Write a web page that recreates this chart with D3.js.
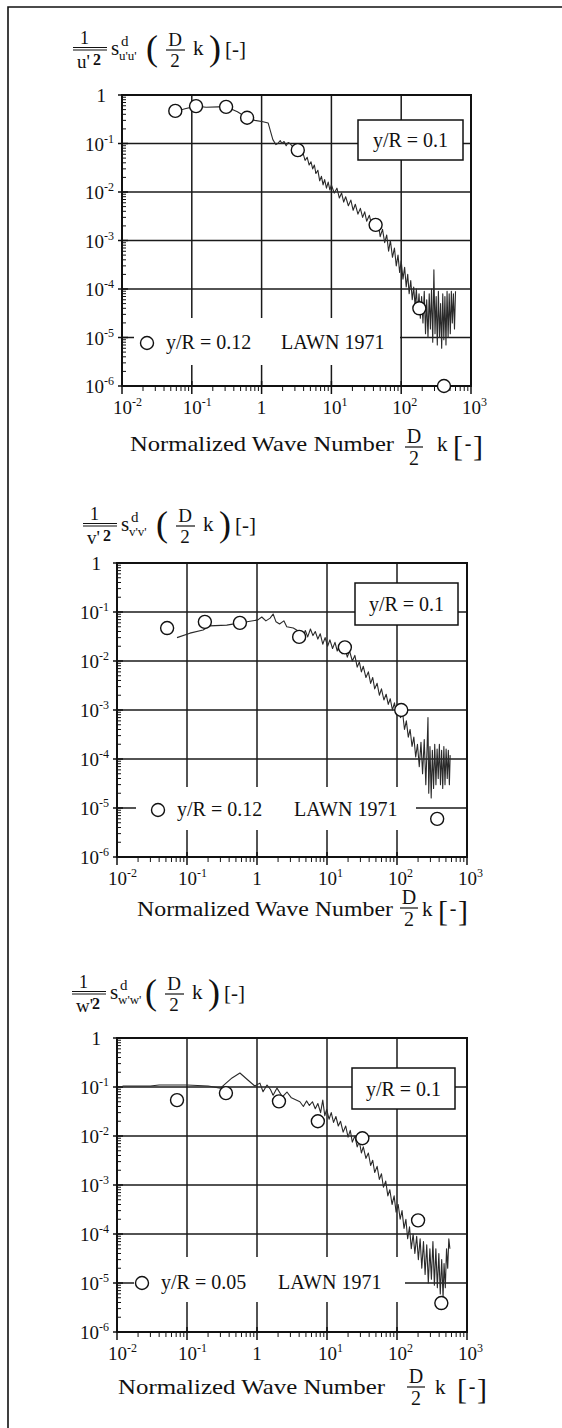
<!DOCTYPE html>
<html lang="en">
<head>
<meta charset="UTF-8">
<title>Normalized spectra u', v', w'</title>
<script src="https://d3js.org/d3.v7.min.js"></script>
<style>
  body { margin: 0; background: #fff; }
  text { font-family: "Liberation Serif", "Times New Roman", serif; fill: #111; }
</style>
</head>
<body>
<svg id="chart" width="562" height="1428"></svg>
<script>
// ---- axis ticks ----
const xTickVals = [1e-2, 1e-1, 1, 1e1, 1e2, 1e3];
const xTickExp = ["-2", "-1", "", "1", "2", "3"];
const yTickVals = [1, 1e-1, 1e-2, 1e-3, 1e-4, 1e-5, 1e-6];
const yTickExp = ["", "-1", "-2", "-3", "-4", "-5", "-6"];

// ---- u'u' spectrum (y/R = 0.1) ----
const uLine = [[0.065,0.48],[0.08,0.52],[0.115,0.59],[0.16,0.56],[0.24,0.57],[0.31,0.57],[0.45,0.45],[0.62,0.34],[0.8,0.3],[1.05,0.28],[1.24,0.265],[1.45,0.12],[1.6,0.095],[1.7,0.1],[1.85,0.115],[1.95,0.1],[2.1,0.11],[2.25,0.09],[2.4,0.105],[2.55,0.1],[2.8,0.085],[3.2,0.075],
  [3.6,0.055],[3.9,0.065],[4.2,0.045],[4.5,0.052],[4.8,0.036],[5.1,0.042],[5.4,0.03],[5.7,0.036],[6.0,0.024],[6.4,0.028],[6.8,0.017],[7.2,0.021],[7.6,0.014],[8.0,0.018],[8.5,0.012],[9.0,0.016],[9.5,0.011],[10,0.014],[11,0.0095],[12,0.012],[13,0.0075],[14,0.0095],[15,0.0062],[16,0.008],[17.5,0.0052],[19,0.0068],[20.5,0.0042],[22,0.0056],[24,0.0035],[26,0.0046],[28,0.003],[30,0.0039],[32,0.0025],[35,0.0033],[38,0.002],[41,0.0027],[44,0.0016],[47,0.0023],[50,0.0012],[54,0.0017],[58,0.0009],[62,0.0013],[66,0.0006],[70,0.001],[75,0.00045],[80,0.0007],[85,0.0003],[90,0.0005],[95,0.00022],[100,0.00038],
  [106,0.00016],[112,0.00028],[118,0.00011],[124,0.0002],[130,0.00008],[137,0.00015],[144,0.00006],[151,0.00011],[158,0.000045],[165,0.0001],[172,0.00003],[180,0.00008],[188,0.000025],[196,0.00007],[205,0.00002],[214,0.00009],[223,0.000012],[232,0.00006],[242,0.00001],[252,0.00008],[262,0.000015],[272,0.0001],[283,0.000008],[294,0.00025],[305,0.000012],[317,0.00007],[329,0.000007],[341,0.00009],[354,0.00001],[367,0.00005],[380,0.000006],[394,0.00008],[408,0.000009],[423,0.00007],[438,0.000007],[454,0.00009],[470,0.00001],[487,0.00008],[505,0.000012],[523,0.00009],[540,0.00002],[560,0.00008],[580,0.000015],[600,0.00009]];
const uCircles = [[0.058,0.47],[0.115,0.59],[0.31,0.57],[0.62,0.34],[3.3,0.073],[43,0.0021],[182,0.00004],[410,0.000001]];

// ---- v'v' spectrum (y/R = 0.1) ----
const vLine = [[0.072,0.03],[0.11,0.037],[0.17,0.043],[0.21,0.052],[0.37,0.054],[0.57,0.06],[0.72,0.063],[1.03,0.069],[1.17,0.079],[1.34,0.066],[1.54,0.075],[1.7,0.091],[1.87,0.063],[2.1,0.057],[2.42,0.066],[2.66,0.05],[3.3,0.047],
  [4.1,0.039],[4.5,0.03],[4.9,0.042],[5.3,0.031],[5.8,0.045],[6.3,0.033],[6.8,0.04],[7.4,0.028],[8,0.036],[8.7,0.022],[9.4,0.03],[10.2,0.02],[11,0.027],[12,0.018],[13,0.024],[14,0.016],[15,0.021],[16.5,0.014],[18,0.019],[19.5,0.012],[21,0.016],[23,0.01],[25,0.013],[27,0.0075],[29,0.0095],[31,0.006],[33,0.0078],[36,0.0046],[39,0.006],[42,0.0035],[45,0.0046],[48,0.0027],[52,0.0035],[56,0.002],[60,0.0027],[65,0.0016],[70,0.0021],[75,0.0013],[80,0.0017],[86,0.001],[92,0.0014],[98,0.0008],[105,0.0011],
  [112,0.0007],[120,0.0009],[128,0.0004],[136,0.0006],[145,0.00028],[154,0.0004],[164,0.00018],[174,0.00028],[185,0.00011],[196,0.0002],[208,0.00007],[220,0.00022],[232,0.00005],[245,0.00025],[258,0.00003],[270,0.0002],[277,0.0007],[284,0.00002],[296,0.00018],[308,0.000016],[320,0.00015],[333,0.000025],[346,0.0002],[360,0.00003],[374,0.00016],[388,0.00004],[403,0.0002],[418,0.00003],[434,0.00015],[450,0.000025],[467,0.00018],[485,0.00003],[503,0.00016],[522,0.00004],[541,0.00015],[560,0.00003],[575,0.00012]];
const vCircles = [[0.052,0.047],[0.18,0.063],[0.57,0.06],[4.0,0.031],[18,0.019],[115,0.001],[375,0.000006]];

// ---- w'w' spectrum (y/R = 0.1) ----
const wLine = [[0.012,0.105],[0.03,0.105],[0.04,0.11],[0.06,0.11],[0.1,0.11],[0.2,0.105],[0.3,0.095],[0.44,0.153],[0.57,0.193],[0.74,0.139],[0.93,0.105],[1.1,0.12],[1.22,0.08],[1.39,0.11],[1.55,0.09],[1.7,0.068],[1.93,0.095],[2.3,0.063],[2.68,0.079],[3.1,0.06],
  [4.1,0.05],[4.6,0.04],[5.1,0.052],[5.6,0.042],[6.2,0.05],[6.8,0.036],[7.4,0.046],[8.1,0.03],[8.7,0.054],[9.3,0.026],[9.9,0.035],[10.7,0.022],[11.5,0.03],[12.4,0.019],[13.4,0.025],[14.5,0.016],[15.6,0.02],[17,0.012],[18.5,0.016],[20,0.0095],[21.5,0.013],[23,0.0075],[25,0.01],[27,0.006],[29,0.0078],[31,0.0045],[33,0.006],[36,0.0035],[39,0.0045],[42,0.0025],[45,0.0032],[48,0.0018],[52,0.0024],[56,0.0013],[60,0.0017],[64,0.0009],[69,0.0012],[74,0.0006],[79,0.0008],[85,0.0004],[91,0.0006],[97,0.00028],
  [104,0.0004],[111,0.0002],[118,0.0003],[126,0.00013],[134,0.0002],[142,0.00008],[151,0.00014],[160,0.00005],[170,0.0001],[180,0.00004],[191,0.00009],[202,0.00003],[214,0.00008],[226,0.00002],[239,0.00007],[252,0.000015],[266,0.00006],[280,0.00001],[295,0.00005],[310,0.000012],[326,0.00007],[342,0.000009],[359,0.00005],[377,0.000008],[396,0.00004],[415,0.000006],[435,0.00003],[455,0.000005],[470,0.000025],[490,0.000008],[510,0.00005],[530,0.00002],[550,0.00008],[570,0.00005]];
const wCircles = [[0.072,0.054],[0.36,0.075],[2.06,0.051],[7.4,0.02],[32,0.009],[200,0.00019],[430,0.0000039]];

// ---- legend / label texts ----
const components = ["u", "v", "w"];
const boxLabels = ["y/R = 0.1", "y/R = 0.1", "y/R = 0.1"];
const lawnLabels = ["y/R = 0.12", "y/R = 0.12", "y/R = 0.05"];
const lawnSource = "LAWN 1971";

// ---- page layout (pixels) ----
const layout = [
  { left: 122, top: 95, right: 471, bottom: 386, tX: 73, tBar: 49,
    box: [358, 120, 463, 160], leg: [134, 318, 400, 365], legC: [147, 343], legT: [166, 281], legBase: 349,
    xt: { x: 130, w: 264, base: 451, frac: 414, bar: 447, k: 437, br: 453 } },
  { left: 117, top: 563, right: 467, bottom: 857, tX: 83, tBar: 525,
    box: [355, 583, 458, 625], leg: [136, 787, 416, 830], legC: [158, 810], legT: [177, 294], legBase: 816,
    xt: { x: 137, w: 256, base: 916, frac: 409, bar: 908, k: 422, br: 438 } },
  { left: 117, top: 1038, right: 467, bottom: 1332, tX: 72, tBar: 993,
    box: [352, 1068, 455, 1109], leg: [134, 1257, 405, 1302], legC: [142, 1283], legT: [161, 278], legBase: 1289,
    xt: { x: 118, w: 267, base: 1394, frac: 416, bar: 1387, k: 435, br: 457 } }
];
const lines = [uLine, vLine, wLine];
const circles = [uCircles, vCircles, wCircles];

const svg = d3.select("#chart");

// outer frame
svg.append("path")
  .attr("d", "M8,1440 L8,7 L600,7")
  .attr("fill", "none").attr("stroke", "#111").attr("stroke-width", 1.6);

function txt(g, x, y, s, size, anchor) {
  return g.append("text").attr("x", x).attr("y", y)
    .attr("font-size", size).attr("text-anchor", anchor || "start").text(s);
}
function hline(g, x1, x2, y, w) {
  g.append("line").attr("x1", x1).attr("x2", x2).attr("y1", y).attr("y2", y)
    .attr("stroke", "#111").attr("stroke-width", w || 1.2);
}

function drawTitle(g, x0, yb, c) {
  hline(g, x0, x0 + 34, yb - 1.5, 1.1);
  hline(g, x0, x0 + 34, yb + 1, 1.1);
  txt(g, x0 + 7, yb - 5, "1", 18);
  txt(g, x0 + 4, yb + 19, c + "'", 19);
  txt(g, x0 + 20, yb + 16, "2", 16).attr("font-weight", "bold");
  txt(g, x0 + 38, yb + 6, "s", 21);
  txt(g, x0 + 48, yb - 3, "d", 15);
  txt(g, x0 + 46, yb + 11, c + "'" + c + "'", 13);
  txt(g, x0 + 73, yb + 11, "(", 36);
  txt(g, x0 + 102, yb - 3, "D", 19, "middle");
  hline(g, x0 + 93, x0 + 112, yb + 1);
  txt(g, x0 + 102, yb + 18, "2", 19, "middle");
  txt(g, x0 + 120, yb + 6, "k", 21);
  txt(g, x0 + 136, yb + 11, ")", 36);
  txt(g, x0 + 152, yb + 7, "[-]", 21);
}

function drawXTitle(g, t) {
  txt(g, t.x, t.base, "Normalized Wave Number", 21)
    .attr("textLength", t.w).attr("lengthAdjust", "spacingAndGlyphs");
  txt(g, t.frac, t.bar - 4, "D", 20, "middle");
  hline(g, t.frac - 9, t.frac + 9, t.bar);
  txt(g, t.frac, t.bar + 18, "2", 20, "middle");
  txt(g, t.k, t.base, "k", 21);
  txt(g, t.br, t.base + 5, "[", 30);
  txt(g, t.br + 15, t.base - 1, "-", 20, "middle");
  txt(g, t.br + 20, t.base + 5, "]", 30);
}

layout.forEach((p, i) => {
  const g = svg.append("g");
  const x = d3.scaleLog().domain([1e-2, 1e3]).range([p.left, p.right]);
  const y = d3.scaleLog().domain([1e-6, 1]).range([p.bottom, p.top]);

  // grid lines at decades
  g.selectAll(".gx").data(xTickVals.slice(1, -1)).join("line")
    .attr("x1", d => x(d)).attr("x2", d => x(d)).attr("y1", p.top).attr("y2", p.bottom)
    .attr("stroke", "#1a1a1a").attr("stroke-width", 1.5);
  g.selectAll(".gy").data(yTickVals.slice(1, -1)).join("line")
    .attr("x1", p.left).attr("x2", p.right).attr("y1", d => y(d)).attr("y2", d => y(d))
    .attr("stroke", "#1a1a1a").attr("stroke-width", 1.5);

  // white panels behind the legends
  g.append("rect").attr("x", p.leg[0]).attr("y", p.leg[1])
    .attr("width", p.leg[2] - p.leg[0]).attr("height", p.leg[3] - p.leg[1]).attr("fill", "#fff");

  // minor / major ticks
  const minorX = [], minorY = [];
  for (let e = -2; e < 3; e++) for (let m = 2; m < 10; m++) minorX.push(m * Math.pow(10, e));
  for (let e = -6; e < 0; e++) for (let m = 2; m < 10; m++) minorY.push(m * Math.pow(10, e));
  g.selectAll(".mx").data(minorX).join("line")
    .attr("x1", d => x(d)).attr("x2", d => x(d)).attr("y1", p.bottom).attr("y2", p.bottom + 5)
    .attr("stroke", "#111").attr("stroke-width", 1);
  g.selectAll(".Mx").data(xTickVals).join("line")
    .attr("x1", d => x(d)).attr("x2", d => x(d)).attr("y1", p.bottom - 5).attr("y2", p.bottom + 8)
    .attr("stroke", "#111").attr("stroke-width", 1.5);
  g.selectAll(".my").data(minorY).join("line")
    .attr("x1", p.left).attr("x2", p.left + 4).attr("y1", d => y(d)).attr("y2", d => y(d))
    .attr("stroke", "#111").attr("stroke-width", 1);
  g.selectAll(".My").data(yTickVals).join("line")
    .attr("x1", p.left - 4).attr("x2", p.left + 6).attr("y1", d => y(d)).attr("y2", d => y(d))
    .attr("stroke", "#111").attr("stroke-width", 1.5);

  // plot frame
  g.append("rect").attr("x", p.left).attr("y", p.top)
    .attr("width", p.right - p.left).attr("height", p.bottom - p.top)
    .attr("fill", "none").attr("stroke", "#111").attr("stroke-width", 2);

  // spectrum
  const line = d3.line().x(d => x(d[0])).y(d => y(d[1]));
  g.append("path").datum(lines[i]).attr("d", line)
    .attr("fill", "none").attr("stroke", "#2a2a2a").attr("stroke-width", 1.1).attr("stroke-linejoin", "round");

  // LAWN 1971 data
  g.selectAll(".pt").data(circles[i]).join("circle")
    .attr("cx", d => x(d[0])).attr("cy", d => y(d[1])).attr("r", 6.5)
    .attr("fill", "#fff").attr("stroke", "#111").attr("stroke-width", 1.4);

  // y/R box
  g.append("rect").attr("x", p.box[0]).attr("y", p.box[1])
    .attr("width", p.box[2] - p.box[0]).attr("height", p.box[3] - p.box[1])
    .attr("fill", "#fff").attr("stroke", "#111").attr("stroke-width", 1.5);
  txt(g, (p.box[0] + p.box[2]) / 2, (p.box[1] + p.box[3]) / 2 + 7, boxLabels[i], 20, "middle");

  // bottom legend
  g.append("circle").attr("cx", p.legC[0]).attr("cy", p.legC[1]).attr("r", 6.5)
    .attr("fill", "#fff").attr("stroke", "#111").attr("stroke-width", 1.4);
  txt(g, p.legT[0], p.legBase, lawnLabels[i], 20);
  txt(g, p.legT[1], p.legBase, lawnSource, 20);

  // tick labels
  xTickVals.forEach((v, j) => {
    if (xTickExp[j] === "") {
      txt(g, x(v), p.bottom + 28, "1", 19, "middle");
    } else {
      const t = txt(g, x(v) - 9, p.bottom + 28, "", 19);
      t.append("tspan").text("10");
      t.append("tspan").attr("dy", -8).attr("font-size", 12).text(xTickExp[j]);
    }
  });
  yTickVals.forEach((v, j) => {
    if (yTickExp[j] === "") {
      txt(g, p.left - 16, y(v) + 7, "1", 19, "end");
    } else {
      const t = txt(g, p.left - 8, y(v) + 7, "", 19, "end");
      t.append("tspan").text("10");
      t.append("tspan").attr("dy", -8).attr("font-size", 12).text(yTickExp[j]);
    }
  });

  drawTitle(g, p.tX, p.tBar, components[i]);
  drawXTitle(g, p.xt);
});
</script>
</body>
</html>
